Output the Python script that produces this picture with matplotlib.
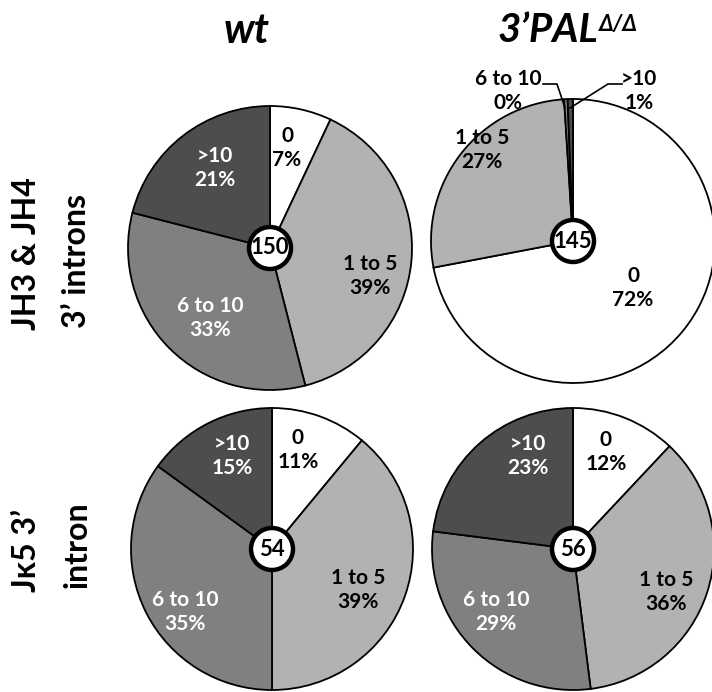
import matplotlib.pyplot as plt
from matplotlib.patches import Circle

W, H = 712, 692

categories = ['0', '1 to 5', '6 to 10', '>10']
pct_labels = {
    'wt_jh': ['7%', '39%', '33%', '21%'],
    'pal_jh': ['72%', '27%', '0%', '1%'],
    'wt_jk': ['11%', '39%', '35%', '15%'],
    'pal_jk': ['12%', '36%', '29%', '23%'],
}
wt_jh = [7, 39, 33, 21]
pal_jh = [72, 27, 0.4, 0.6]
wt_jk = [11, 39, 35, 15]
pal_jk = [12, 36, 29, 23]
counts = {'wt_jh': 150, 'pal_jh': 145, 'wt_jk': 54, 'pal_jk': 56}

colors = ['#ffffff', '#b2b2b2', '#808080', '#4d4d4d']
txt_colors = ['black', 'black', 'white', 'white']

plt.rcParams['font.family'] = ['Lato', 'DejaVu Sans']

fig = plt.figure(figsize=(W / 100, H / 100), dpi=100)
ax = fig.add_axes([0, 0, 1, 1])

def Y(y):
    return H - y

# pie centers / radius in pixels
pies = [
    ('wt_jh', wt_jh, 270, 248, 142),
    ('pal_jh', pal_jh, 573, 241, 142),
    ('wt_jk', wt_jk, 272, 549, 141),
    ('pal_jk', pal_jk, 573, 549, 141),
]

# label positions (pixel coords) for each slice
label_pos = {
    'wt_jh': [(287, 148), (370, 276), (210, 318), (215, 168)],
    'pal_jh': [(633, 288), (482, 150), (508, 91), (639, 91)],
    'wt_jk': [(298, 450), (358, 590), (185, 612), (232, 456)],
    'pal_jk': [(606, 452), (666, 592), (496, 612), (528, 456)],
}

for key, vals, cx, cy, r in pies:
    ax.pie(vals, colors=colors, startangle=90, counterclock=False,
           center=(cx, Y(cy)), radius=r,
           wedgeprops=dict(edgecolor='black', linewidth=1.3))
    for i, (lx, ly) in enumerate(label_pos[key]):
        col = txt_colors[i]
        if key == 'pal_jh' and i >= 2:
            col = 'black'
        ax.text(lx, Y(ly), categories[i] + '\n' + pct_labels[key][i],
                ha='center', va='center', fontsize=15, fontweight='bold',
                color=col, linespacing=1.3)
    ax.add_patch(Circle((cx, Y(cy)), 21, facecolor='white', edgecolor='black',
                        linewidth=3.2, zorder=5))
    ax.text(cx, Y(cy), str(counts[key]), ha='center', va='center',
            fontsize=16, fontweight='bold', zorder=6)

# leader lines for tiny slices
ax.plot([543, 557, 565], [Y(84), Y(84), Y(108)], color='black', lw=1.2)
ax.plot([622, 608, 570], [Y(84), Y(84), Y(108)], color='black', lw=1.2)

# column titles
ax.text(247, Y(31), 'wt', ha='center', va='center', fontsize=30,
        fontweight='bold', style='italic')
ax.text(598, Y(31), '3\u2019PAL', ha='right', va='center', fontsize=29,
        fontweight='bold', style='italic')
ax.text(599, Y(24), '\u0394/\u0394', ha='left', va='center', fontsize=16,
        fontweight='bold', style='italic')

# row labels
ax.text(27, Y(330), 'JH3 & JH4', rotation=90, ha='center', va='bottom',
        fontsize=23, fontweight='bold')
ax.text(77, Y(328), '3\u2019 introns', rotation=90, ha='center', va='bottom',
        fontsize=23, fontweight='bold')
ax.text(27, Y(592), 'J\u03ba5 3\u2019', rotation=90, ha='center', va='bottom',
        fontsize=23, fontweight='bold')
ax.text(77, Y(588), 'intron', rotation=90, ha='center', va='bottom',
        fontsize=23, fontweight='bold')

ax.set_xlim(0, W)
ax.set_ylim(0, H)
ax.set_aspect('equal')
ax.axis('off')

fig.savefig('out.png', dpi=100)
